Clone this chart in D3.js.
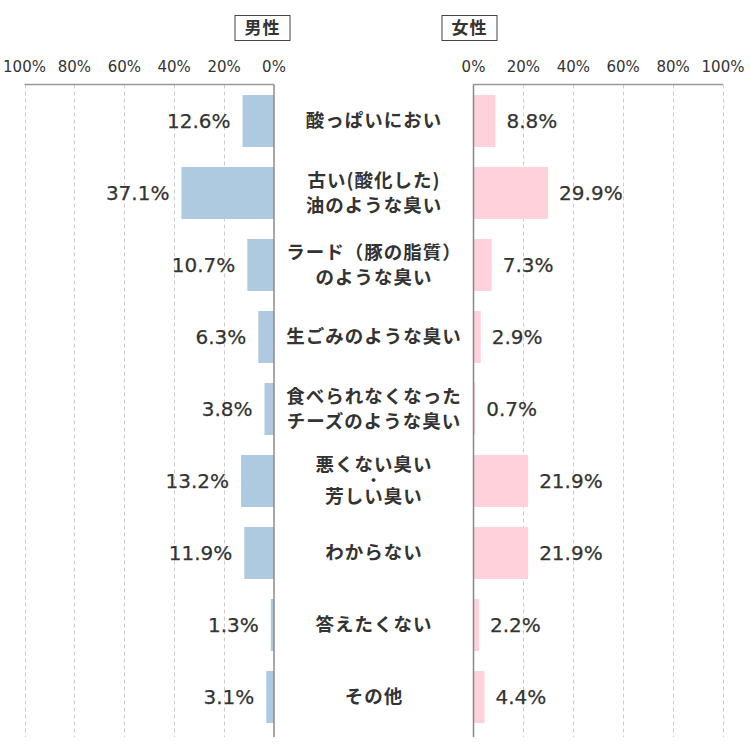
<!DOCTYPE html>
<html>
<head>
<meta charset="utf-8">
<script src="https://cdn.jsdelivr.net/npm/d3@7"></script>
<style>
  body { margin: 0; background: #fff; }
  text { font-family: "Noto Sans CJK JP", "Noto Sans", sans-serif; fill: #333; }
  .num { font-family: "DejaVu Sans", sans-serif; }
</style>
</head>
<body>
<script>
var width = 750, height = 750

// data
var categories = [
  ["酸っぱいにおい"],
  ["古い(酸化した)", "油のような臭い"],
  ["ラード（豚の脂質）", "のような臭い"],
  ["生ごみのような臭い"],
  ["食べられなくなった", "チーズのような臭い"],
  ["悪くない臭い", "・", "芳しい臭い"],
  ["わからない"],
  ["答えたくない"],
  ["その他"]
]
var male = [12.6, 37.1, 10.7, 6.3, 3.8, 13.2, 11.9, 1.3, 3.1]
var female = [8.8, 29.9, 7.3, 2.9, 0.7, 21.9, 21.9, 2.2, 4.4]
var ticks = [0, 20, 40, 60, 80, 100]
var panelNames = ["男性", "女性"]

var svg = d3.select("body").append("svg")
    .attr("width", width)
    .attr("height", height)

var xL = d3.scaleLinear().domain([0, 100]).range([274, 24.5])
var xR = d3.scaleLinear().domain([0, 100]).range([473.5, 723])
var y = d3.scaleBand().domain(d3.range(categories.length)).range([85, 733]).paddingInner(0.278).paddingOuter(0.139)

var axisTop = 84.5, axisBottom = 737

// grid lines (dashed) + tick labels
;[xL, xR].forEach(function(sc) {
  svg.selectAll(null)
      .data(ticks.slice(1))
    .enter().append("line")
      .attr("x1", function(d) { return Math.round(sc(d)) + 0.5 })
      .attr("x2", function(d) { return Math.round(sc(d)) + 0.5 })
      .attr("y1", axisTop)
      .attr("y2", axisBottom)
      .attr("stroke", "#ccc")
      .attr("stroke-dasharray", "4,3")

  svg.selectAll(null)
      .data(ticks)
    .enter().append("text")
      .attr("class", "num")
      .attr("x", function(d) { return sc(d) })
      .attr("y", 67)
      .attr("dy", "0.35em")
      .attr("text-anchor", "middle")
      .style("font-size", "15px")
      .text(function(d) { return d + "%" })
})

// bars
svg.selectAll(".male")
    .data(male)
  .enter().append("rect")
    .attr("x", function(d) { return xL(d) })
    .attr("y", function(d, i) { return y(i) })
    .attr("width", function(d) { return xL(0) - xL(d) })
    .attr("height", y.bandwidth())
    .attr("fill", "#aecae1")

svg.selectAll(".female")
    .data(female)
  .enter().append("rect")
    .attr("x", xR(0))
    .attr("y", function(d, i) { return y(i) })
    .attr("width", function(d) { return xR(d) - xR(0) })
    .attr("height", y.bandwidth())
    .attr("fill", "#ffd1da")

// axis lines
;[xL, xR].forEach(function(sc) {
  svg.append("line")
      .attr("x1", sc(0)).attr("x2", sc(100))
      .attr("y1", axisTop).attr("y2", axisTop)
      .attr("stroke", "#999").attr("stroke-width", 1.5)
  svg.append("line")
      .attr("x1", sc(0)).attr("x2", sc(0))
      .attr("y1", axisTop).attr("y2", axisBottom)
      .attr("stroke", "#888").attr("stroke-width", 1.5)
})

// value labels
svg.selectAll(".mlab")
    .data(male)
  .enter().append("text")
    .attr("class", "num")
    .attr("x", function(d) { return xL(d) - 12 })
    .attr("y", function(d, i) { return y(i) + y.bandwidth() / 2 })
    .attr("dy", "0.36em")
    .attr("text-anchor", "end")
    .style("font-size", "20px")
    .style("stroke", "#333")
    .style("stroke-width", 0.25)
    .text(function(d) { return d.toFixed(1) + "%" })

svg.selectAll(".flab")
    .data(female)
  .enter().append("text")
    .attr("class", "num")
    .attr("x", function(d) { return xR(d) + 11 })
    .attr("y", function(d, i) { return y(i) + y.bandwidth() / 2 })
    .attr("dy", "0.36em")
    .attr("text-anchor", "start")
    .style("font-size", "20px")
    .style("stroke", "#333")
    .style("stroke-width", 0.25)
    .text(function(d) { return d.toFixed(1) + "%" })

// category labels
var cat = svg.selectAll(".cat")
    .data(categories)
  .enter().append("text")
    .attr("text-anchor", "middle")
    .style("font-size", "18.5px")
    .style("font-weight", "bold")
    .style("letter-spacing", "1px")
    .attr("transform", function(d, i) { return "translate(374," + (y(i) + y.bandwidth() / 2) + ")" })

cat.selectAll("tspan")
    .data(function(d) { return d.map(function(t, j) { return {t: t, j: j, n: d.length} }) })
  .enter().append("tspan")
    .attr("x", 0)
    .attr("y", function(d) {
      var step = d.n == 3 ? 16 : 24.5
      return (d.j - (d.n - 1) / 2) * step
    })
    .attr("dy", "0.35em")
    .style("font-size", function(d) { return d.t == "・" ? "15px" : null })
    .text(function(d) { return d.t })

// panel titles
var titleX = [262.5, 469.5]
panelNames.forEach(function(name, i) {
  svg.append("rect")
      .attr("x", titleX[i] - 27.5)
      .attr("y", 15.5)
      .attr("width", 55)
      .attr("height", 25)
      .attr("fill", "#fff")
      .attr("stroke", "#444")
  svg.append("text")
      .attr("x", titleX[i])
      .attr("y", 28)
      .attr("dy", "0.35em")
      .attr("text-anchor", "middle")
      .style("font-size", "17px")
      .style("font-weight", "bold")
      .style("letter-spacing", "1px")
      .text(name)
})
</script>
</body>
</html>
